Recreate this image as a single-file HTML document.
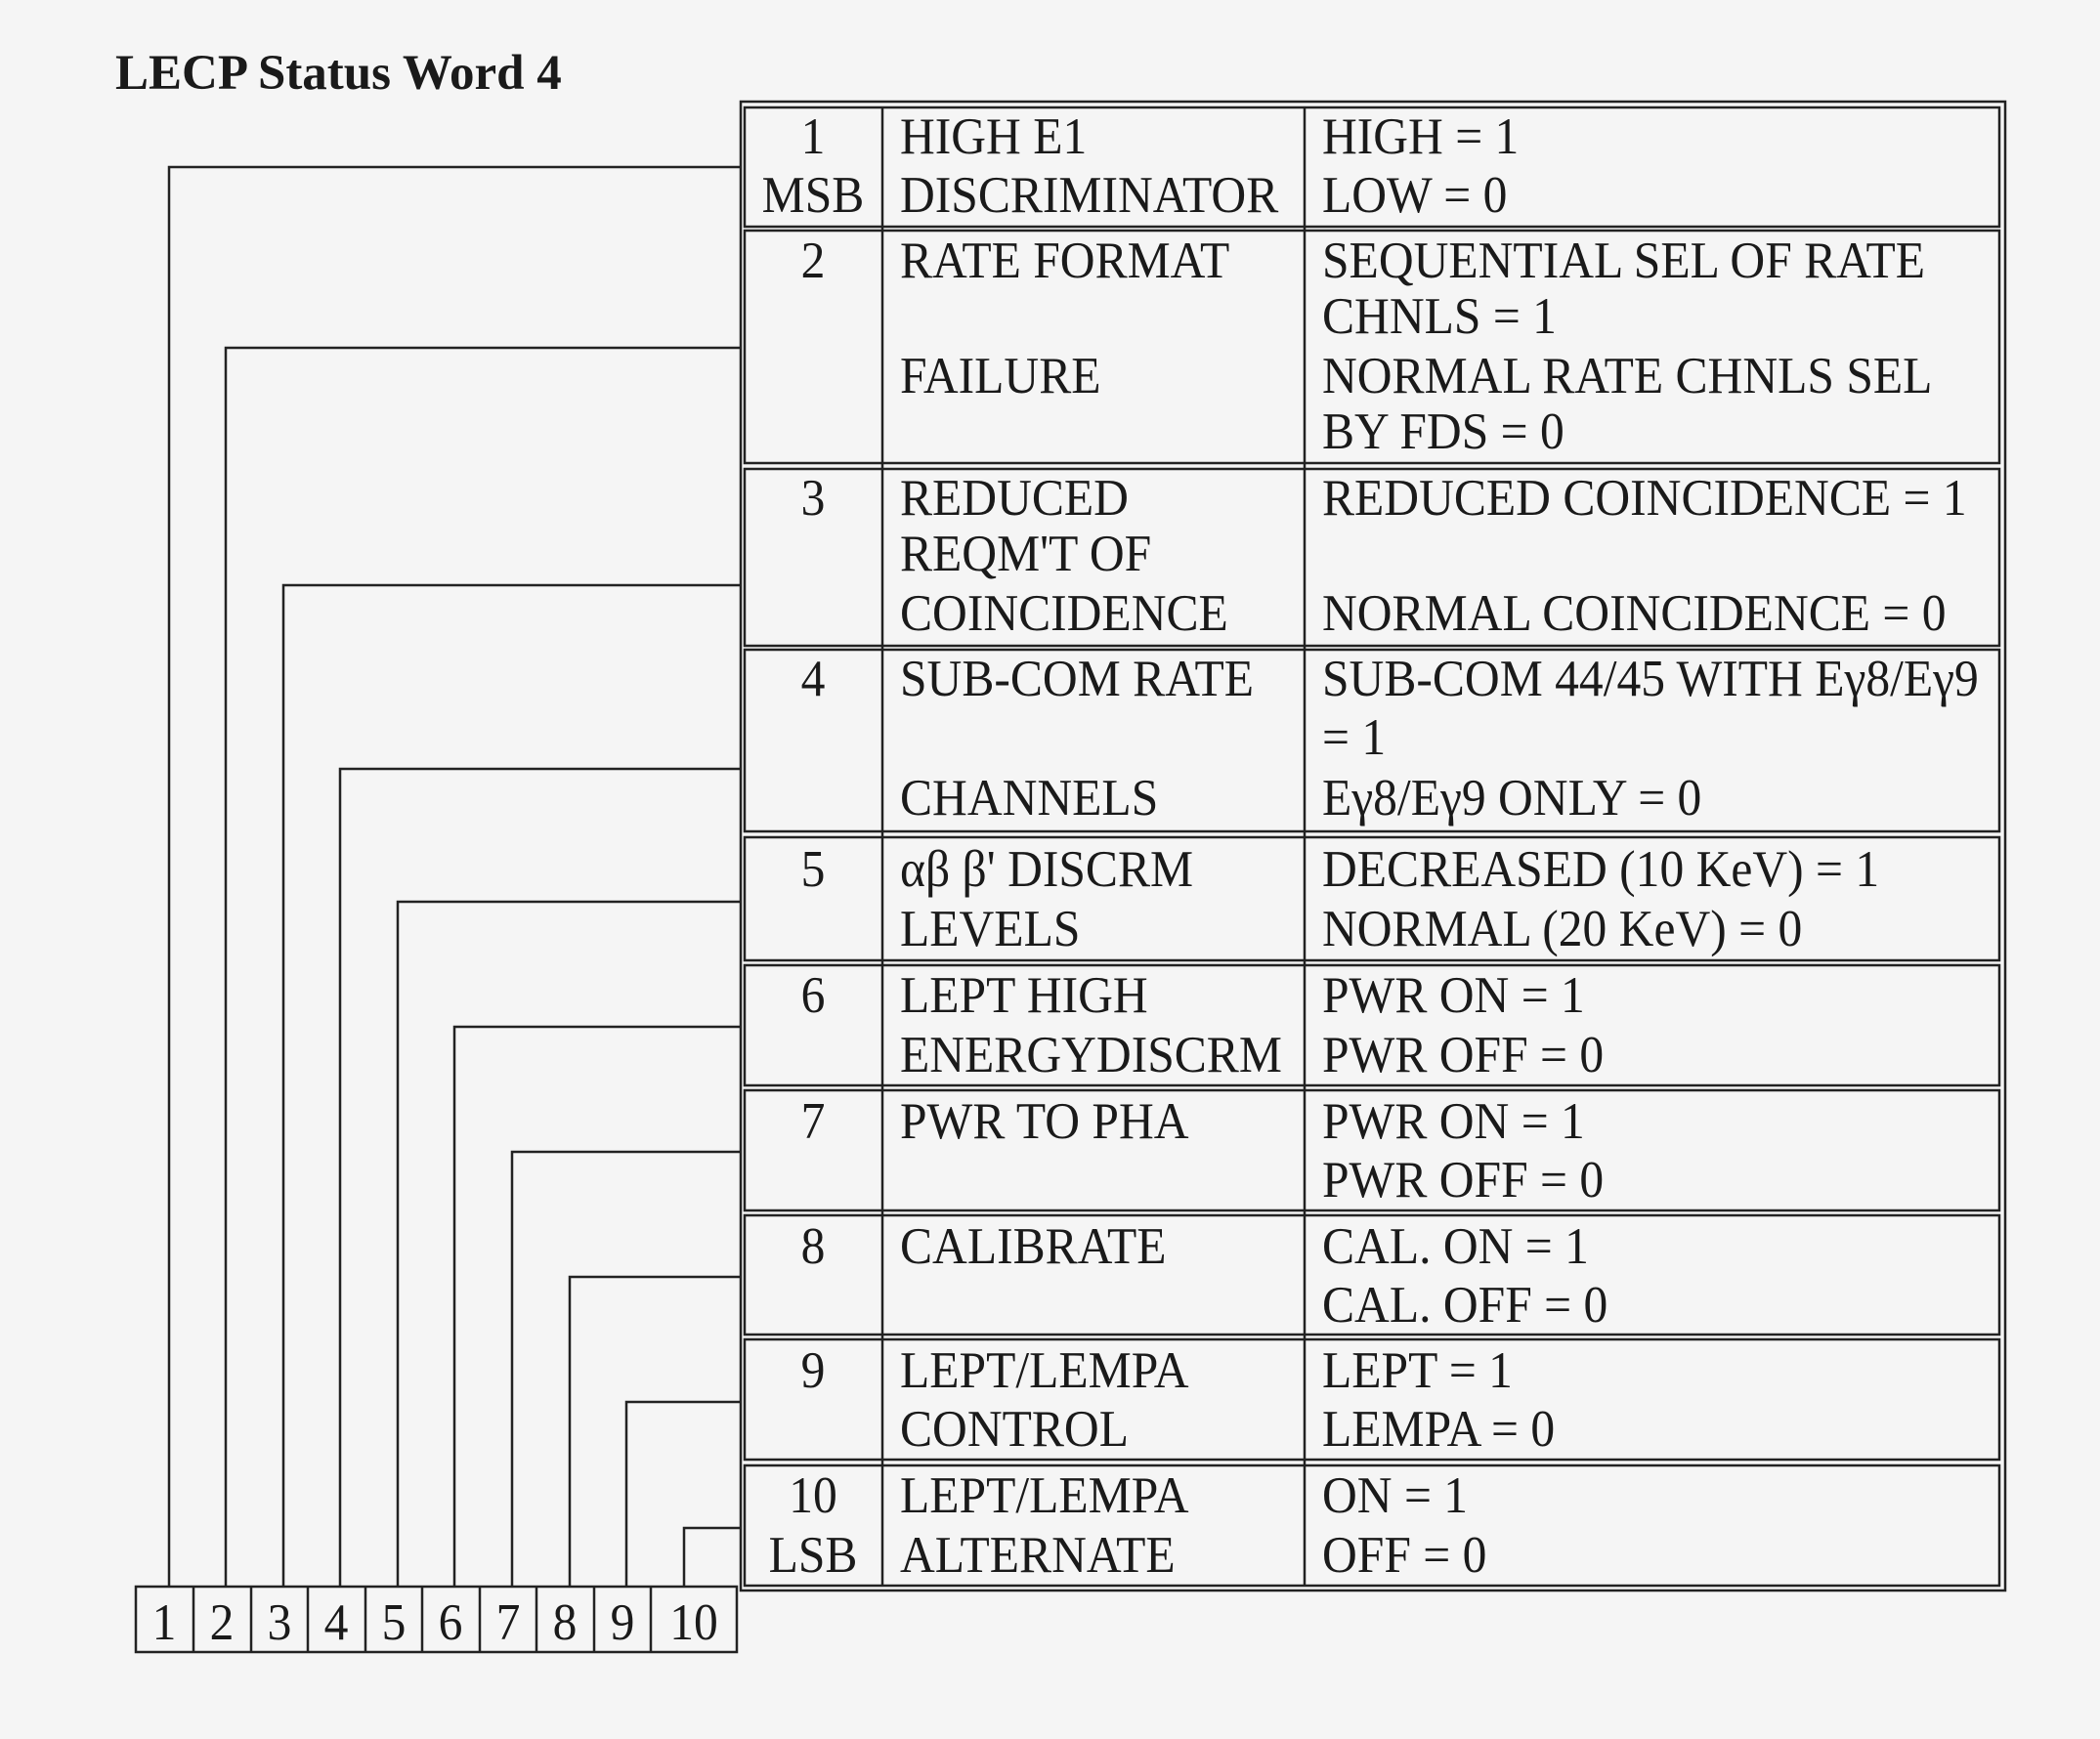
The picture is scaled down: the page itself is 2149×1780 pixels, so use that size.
<!DOCTYPE html>
<html><head><meta charset="utf-8"><style>
html,body{margin:0;padding:0;background:#f5f5f5;}
svg{display:block}
text{font-family:"Liberation Serif",serif;font-size:53px;fill:#1a1a1a}
.t{font-weight:bold;font-size:51px}
</style></head><body>
<svg width="2149" height="1780" viewBox="0 0 2149 1780" xmlns="http://www.w3.org/2000/svg">
<rect width="2149" height="1780" fill="#f5f5f5"/>
<text class="t" x="118" y="91">LECP Status Word 4</text>
<g fill="none" stroke="#222" stroke-width="2.5">
<rect x="758" y="104" width="1294" height="1524"/>
<rect x="762" y="110" width="1284" height="122"/>
<rect x="762" y="236" width="1284" height="238"/>
<rect x="762" y="480" width="1284" height="181"/>
<rect x="762" y="665" width="1284" height="186"/>
<rect x="762" y="857" width="1284" height="126"/>
<rect x="762" y="988" width="1284" height="123"/>
<rect x="762" y="1116" width="1284" height="123"/>
<rect x="762" y="1244" width="1284" height="122"/>
<rect x="762" y="1371" width="1284" height="123"/>
<rect x="762" y="1500" width="1284" height="123"/>
<line x1="903" y1="110" x2="903" y2="1623"/>
<line x1="1335" y1="110" x2="1335" y2="1623"/>
</g>
<g fill="none" stroke="#222" stroke-width="2.5">
<polyline points="173,1624 173,171 758,171"/>
<polyline points="231,1624 231,356 758,356"/>
<polyline points="290,1624 290,599 758,599"/>
<polyline points="348,1624 348,787 758,787"/>
<polyline points="407,1624 407,923 758,923"/>
<polyline points="465,1624 465,1051 758,1051"/>
<polyline points="524,1624 524,1179 758,1179"/>
<polyline points="583,1624 583,1307 758,1307"/>
<polyline points="641,1624 641,1435 758,1435"/>
<polyline points="700,1624 700,1564 758,1564"/>
<rect x="139" y="1624" width="615" height="67"/>
<line x1="198" y1="1624" x2="198" y2="1691"/>
<line x1="257" y1="1624" x2="257" y2="1691"/>
<line x1="315" y1="1624" x2="315" y2="1691"/>
<line x1="374" y1="1624" x2="374" y2="1691"/>
<line x1="432" y1="1624" x2="432" y2="1691"/>
<line x1="491" y1="1624" x2="491" y2="1691"/>
<line x1="549" y1="1624" x2="549" y2="1691"/>
<line x1="608" y1="1624" x2="608" y2="1691"/>
<line x1="666" y1="1624" x2="666" y2="1691"/>
</g>
<g text-anchor="middle">
<text transform="translate(168,1678) scale(0.935,1)">1</text>
<text transform="translate(227,1678) scale(0.935,1)">2</text>
<text transform="translate(286,1678) scale(0.935,1)">3</text>
<text transform="translate(344,1678) scale(0.935,1)">4</text>
<text transform="translate(403,1678) scale(0.935,1)">5</text>
<text transform="translate(461,1678) scale(0.935,1)">6</text>
<text transform="translate(520,1678) scale(0.935,1)">7</text>
<text transform="translate(578,1678) scale(0.935,1)">8</text>
<text transform="translate(637,1678) scale(0.935,1)">9</text>
<text transform="translate(710,1678) scale(0.935,1)">10</text>
<text transform="translate(832,157) scale(0.935,1)">1</text>
<text transform="translate(832,217) scale(0.935,1)">MSB</text>
<text transform="translate(832,284) scale(0.935,1)">2</text>
<text transform="translate(832,527) scale(0.935,1)">3</text>
<text transform="translate(832,712) scale(0.935,1)">4</text>
<text transform="translate(832,907) scale(0.935,1)">5</text>
<text transform="translate(832,1036) scale(0.935,1)">6</text>
<text transform="translate(832,1165) scale(0.935,1)">7</text>
<text transform="translate(832,1293) scale(0.935,1)">8</text>
<text transform="translate(832,1420) scale(0.935,1)">9</text>
<text transform="translate(832,1548) scale(0.935,1)">10</text>
<text transform="translate(832,1609) scale(0.935,1)">LSB</text>
</g>
<g>
<text transform="translate(921,157) scale(0.935,1)">HIGH E1</text>
<text transform="translate(921,217) scale(0.935,1)">DISCRIMINATOR</text>
<text transform="translate(921,284) scale(0.935,1)">RATE FORMAT</text>
<text transform="translate(921,402) scale(0.935,1)">FAILURE</text>
<text transform="translate(921,527) scale(0.935,1)">REDUCED</text>
<text transform="translate(921,584) scale(0.935,1)">REQM'T OF</text>
<text transform="translate(921,645) scale(0.935,1)">COINCIDENCE</text>
<text transform="translate(921,712) scale(0.935,1)">SUB-COM RATE</text>
<text transform="translate(921,834) scale(0.935,1)">CHANNELS</text>
<text transform="translate(921,907) scale(0.935,1)">αβ β' DISCRM</text>
<text transform="translate(921,968) scale(0.935,1)">LEVELS</text>
<text transform="translate(921,1036) scale(0.935,1)">LEPT HIGH</text>
<text transform="translate(921,1097) scale(0.935,1)">ENERGYDISCRM</text>
<text transform="translate(921,1165) scale(0.935,1)">PWR TO PHA</text>
<text transform="translate(921,1293) scale(0.935,1)">CALIBRATE</text>
<text transform="translate(921,1420) scale(0.935,1)">LEPT/LEMPA</text>
<text transform="translate(921,1480) scale(0.935,1)">CONTROL</text>
<text transform="translate(921,1548) scale(0.935,1)">LEPT/LEMPA</text>
<text transform="translate(921,1609) scale(0.935,1)">ALTERNATE</text>

<text transform="translate(1353,157) scale(0.935,1)">HIGH = 1</text>
<text transform="translate(1353,217) scale(0.935,1)">LOW = 0</text>
<text transform="translate(1353,284) scale(0.935,1)">SEQUENTIAL SEL OF RATE</text>
<text transform="translate(1353,341) scale(0.935,1)">CHNLS = 1</text>
<text transform="translate(1353,402) scale(0.935,1)">NORMAL RATE CHNLS SEL</text>
<text transform="translate(1353,459) scale(0.935,1)">BY FDS = 0</text>
<text transform="translate(1353,527) scale(0.935,1)">REDUCED COINCIDENCE = 1</text>
<text transform="translate(1353,645) scale(0.935,1)">NORMAL COINCIDENCE = 0</text>
<text transform="translate(1353,712) scale(0.935,1)">SUB-COM 44/45 WITH Eγ8/Eγ9</text>
<text transform="translate(1353,772) scale(0.935,1)">= 1</text>
<text transform="translate(1353,834) scale(0.935,1)">Eγ8/Eγ9 ONLY = 0</text>
<text transform="translate(1353,907) scale(0.935,1)">DECREASED (10 KeV) = 1</text>
<text transform="translate(1353,968) scale(0.935,1)">NORMAL (20 KeV) = 0</text>
<text transform="translate(1353,1036) scale(0.935,1)">PWR ON = 1</text>
<text transform="translate(1353,1097) scale(0.935,1)">PWR OFF = 0</text>
<text transform="translate(1353,1165) scale(0.935,1)">PWR ON = 1</text>
<text transform="translate(1353,1225) scale(0.935,1)">PWR OFF = 0</text>
<text transform="translate(1353,1293) scale(0.935,1)">CAL. ON = 1</text>
<text transform="translate(1353,1353) scale(0.935,1)">CAL. OFF = 0</text>
<text transform="translate(1353,1420) scale(0.935,1)">LEPT = 1</text>
<text transform="translate(1353,1480) scale(0.935,1)">LEMPA = 0</text>
<text transform="translate(1353,1548) scale(0.935,1)">ON = 1</text>
<text transform="translate(1353,1609) scale(0.935,1)">OFF = 0</text>
</g>
</svg>
</body></html>
